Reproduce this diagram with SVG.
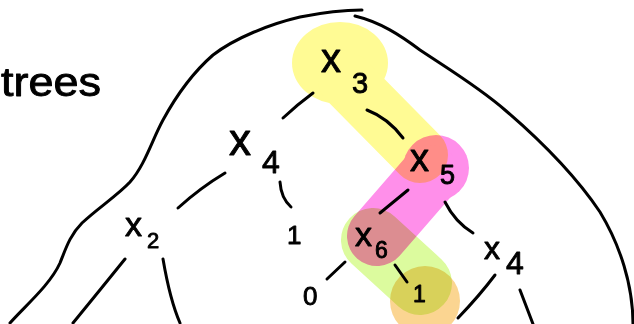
<svg xmlns="http://www.w3.org/2000/svg" width="634" height="324" viewBox="0 0 634 324">
<style>
.ink{fill:none;stroke:#000;stroke-width:3;stroke-linecap:round;stroke-linejoin:round}
.t{font-family:"Liberation Sans","DejaVu Sans",sans-serif;fill:#000;stroke:#000;stroke-width:0.9;stroke-linejoin:round}
.hl{mix-blend-mode:multiply}
.band{fill:none;stroke-linecap:round}
</style>
<rect width="634" height="324" fill="#fff"/>
<g id="highlights">
  <g class="hl" id="hl-yellow">
    <ellipse cx="340" cy="63" rx="48" ry="41" fill="#FFFB94"/>
    <path class="band" d="M346,80 L420,155" stroke="#FFFB94" stroke-width="56"/>
  </g>
  <g class="hl" id="hl-pink">
    <circle cx="436" cy="168" r="33" fill="#FF8FEA"/>
    <path class="band" d="M430,175 L377,236" stroke="#FF8FEA" stroke-width="60"/>
  </g>
  <g class="hl" id="hl-green">
    <path class="band" d="M373,240 L420,283" stroke="#DCFB9E" stroke-width="64"/>
  </g>
  <g class="hl" id="hl-orange">
    <circle cx="425" cy="301" r="35" fill="#FBD591"/>
  </g>
</g>
<g id="outline">
  <path class="ink" d="M10,323 C25,306 50,285 60,263 C66,248 70,235 82,223 C98,208 118,195 130,182 C145,165 152,140 163,120 C175,98 190,75 213,55 C235,38 270,24 300,17 C325,12 345,10 362,10"/>
  <path class="ink" d="M355,16 C380,22 400,35 420,50 C450,70 480,88 505,110 C540,140 575,175 600,212 C620,245 633,285 633,324"/>
</g>
<text class="t" x="1" y="96" font-size="40" textLength="100" lengthAdjust="spacingAndGlyphs">trees</text>
<g id="connectors">
  <path class="ink" d="M313,93 Q298,104 283,118"/>
  <path class="ink" d="M367,110 Q388,118 403,138"/>
  <path class="ink" d="M225,173 Q200,188 178,208"/>
  <path class="ink" d="M280,182 Q281,198 291,207"/>
  <path class="ink" d="M408,190 L380,213"/>
  <path class="ink" d="M445,202 Q455,222 473,233"/>
  <path class="ink" d="M345,262 L327,279"/>
  <path class="ink" d="M395,265 L407,282"/>
  <path class="ink" d="M125,259 Q100,290 73,323"/>
  <path class="ink" d="M163,259 Q170,300 180,323"/>
  <path class="ink" d="M495,275 Q480,295 458,318"/>
  <path class="ink" d="M520,290 L533,324"/>
</g>
<g id="n-x3"><text class="t" x="321" y="72" font-size="40">x<tspan x="352" y="93" font-size="29">3</tspan></text></g>
<g id="n-x4a"><text class="t" x="229" y="155" font-size="44">x<tspan x="262" y="173" font-size="32">4</tspan></text></g>
<g id="n-x5"><text class="t" x="410" y="171" font-size="38">x<tspan x="440" y="184" font-size="27">5</tspan></text></g>
<g id="n-x2"><text class="t" x="125" y="236" font-size="34">x<tspan x="147" y="248" font-size="22">2</tspan></text></g>
<g id="n-1a"><text class="t" x="287" y="244" font-size="26">1</text></g>
<g id="n-x6"><text class="t" x="355" y="246" font-size="34">x<tspan x="375" y="258" font-size="23">6</tspan></text></g>
<g id="n-x4b"><text class="t" x="484" y="259" font-size="32">x<tspan x="506" y="274" font-size="32">4</tspan></text></g>
<g id="n-0"><text class="t" x="303" y="305" font-size="26">0</text></g>
<g id="n-1b"><text class="t" x="413" y="302" font-size="23">1</text></g>
</svg>
